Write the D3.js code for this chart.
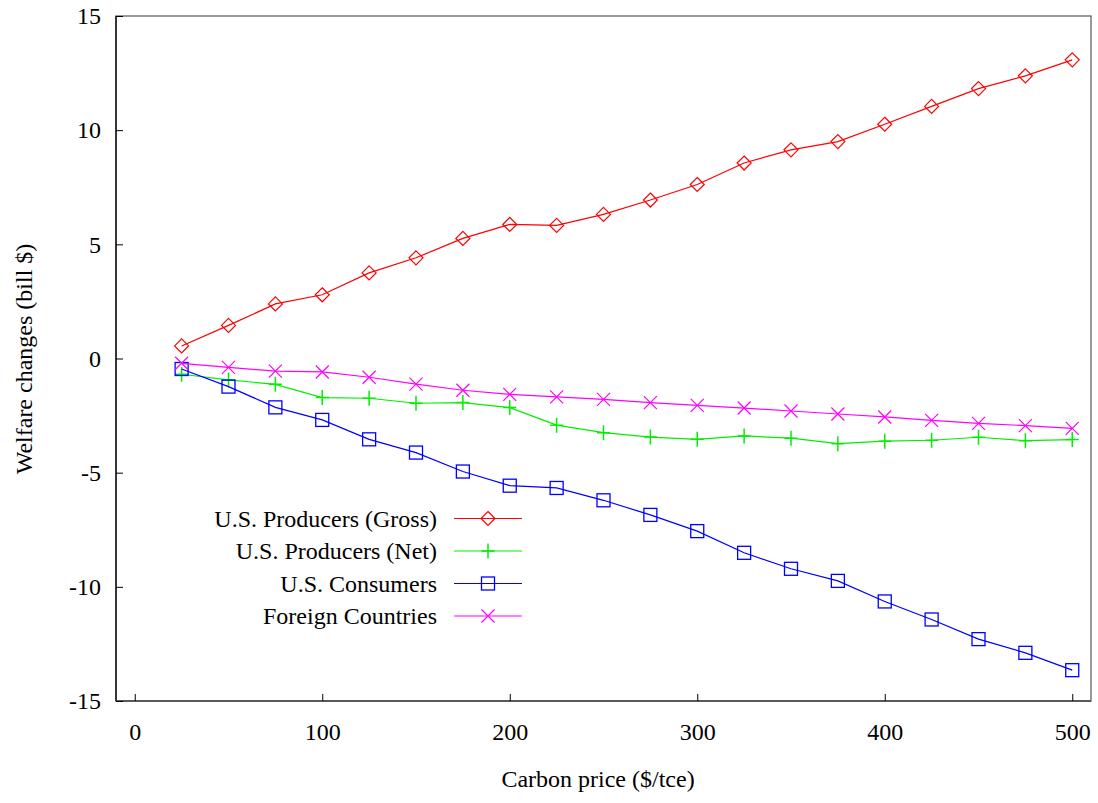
<!DOCTYPE html>
<html><head><meta charset="utf-8">
<script src="https://cdn.jsdelivr.net/npm/d3@7"></script>
<style>body{margin:0;background:#fff}svg{display:block}</style>
</head><body><svg id="c" width="1098" height="803"></svg>
<script>
const prices = [25,50,75,100,125,150,175,200,225,250,275,300,325,350,375,400,425,450,475,500];
const gross = [0.55,1.45,2.39,2.79,3.75,4.41,5.26,5.87,5.83,6.31,6.94,7.62,8.56,9.14,9.50,10.26,11.04,11.82,12.38,13.08];
const net = [-0.69,-0.94,-1.13,-1.71,-1.74,-1.96,-1.93,-2.15,-2.92,-3.25,-3.44,-3.54,-3.39,-3.49,-3.73,-3.62,-3.58,-3.45,-3.60,-3.55];
const consumers = [-0.46,-1.23,-2.14,-2.69,-3.54,-4.12,-4.95,-5.57,-5.67,-6.21,-6.85,-7.56,-8.51,-9.21,-9.74,-10.64,-11.43,-12.29,-12.89,-13.65];
const foreign = [-0.21,-0.39,-0.55,-0.59,-0.82,-1.12,-1.39,-1.57,-1.68,-1.79,-1.93,-2.05,-2.17,-2.30,-2.43,-2.56,-2.71,-2.84,-2.94,-3.06];
const seriesNames = ["U.S. Producers (Gross)","U.S. Producers (Net)","U.S. Consumers","Foreign Countries"];
const xTicks = [0,100,200,300,400,500];
const yTicks = [-15,-10,-5,0,5,10,15];

const FONT = "'Liberation Serif', 'Times New Roman', serif";
const series = [
  {name: seriesNames[0], values: gross, color: "#ff0000", marker: "diamond"},
  {name: seriesNames[1], values: net, color: "#00ee00", marker: "plus"},
  {name: seriesNames[2], values: consumers, color: "#0000ff", marker: "square"},
  {name: seriesNames[3], values: foreign, color: "#ff00ff", marker: "cross"}
];

const L = 116, R = 1091, T = 16, B = 701;
const x = d3.scaleLinear().domain([-10, 510]).range([L, R]);
const y = d3.scaleLinear().domain([-15, 15]).range([B, T]);
const svg = d3.select("#c");

// frame
svg.append("rect").attr("x", L).attr("y", T).attr("width", R - L).attr("height", B - T)
  .attr("fill", "none").attr("stroke", "#555").attr("stroke-width", 1.2);
svg.append("line").attr("x1", L).attr("x2", L).attr("y1", T).attr("y2", B).attr("stroke", "#000").attr("stroke-width", 1.3);
svg.append("line").attr("x1", L).attr("x2", R).attr("y1", B).attr("y2", B).attr("stroke", "#444").attr("stroke-width", 1.3);

// axes (inward ticks)
const yAxis = d3.axisLeft(y).tickValues(yTicks).tickSize(-7).tickPadding(15).tickFormat(d => String(d));
const gy = svg.append("g").attr("transform", `translate(${L},0)`).call(yAxis);
gy.select(".domain").remove();
gy.selectAll(".tick line").attr("stroke", "#000");
gy.selectAll(".tick text").style("font-size", "24px").style("font-family", FONT).attr("fill", "#000");

const xAxis = d3.axisBottom(x).tickValues(xTicks).tickSize(-7).tickPadding(22).tickFormat(d => String(d));
const gx = svg.append("g").attr("transform", `translate(0,${B})`).call(xAxis);
gx.select(".domain").remove();
gx.selectAll(".tick line").attr("stroke", "#000");
gx.selectAll(".tick text").style("font-size", "24px").style("font-family", FONT).attr("fill", "#000");

// labels
svg.append("text").attr("x", 598).attr("y", 787).attr("text-anchor", "middle")
  .style("font-size", "24px").style("font-family", FONT).text("Carbon price ($/tce)");
svg.append("text").attr("transform", "translate(32,359) rotate(-90)").attr("text-anchor", "middle")
  .style("font-size", "24px").style("font-family", FONT).text("Welfare changes (bill $)");

function drawMarker(g, type, cx, cy, color) {
  const s = 6.5;
  if (type === "diamond") {
    g.append("path").attr("d", `M${cx},${cy - s - 0.5}L${cx + s + 0.5},${cy}L${cx},${cy + s + 0.5}L${cx - s - 0.5},${cy}Z`)
      .attr("fill", "none").attr("stroke", color).attr("stroke-width", 1.2);
  } else if (type === "square") {
    g.append("rect").attr("x", cx - s).attr("y", cy - s).attr("width", 2 * s).attr("height", 2 * s)
      .attr("fill", "none").attr("stroke", color).attr("stroke-width", 1.3);
  } else if (type === "plus") {
    g.append("path").attr("d", `M${cx - s},${cy}L${cx + s},${cy}M${cx},${cy - s - 1}L${cx},${cy + s + 1}`)
      .attr("fill", "none").attr("stroke", color).attr("stroke-width", 1.5);
  } else if (type === "cross") {
    g.append("path").attr("d", `M${cx - s},${cy - s}L${cx + s},${cy + s}M${cx - s},${cy + s}L${cx + s},${cy - s}`)
      .attr("fill", "none").attr("stroke", color).attr("stroke-width", 1.2);
  }
}

const line = d3.line().x((d, i) => x(prices[i])).y(d => y(d));
series.forEach(s => {
  const g = svg.append("g");
  g.append("path").datum(s.values).attr("d", line).attr("fill", "none").attr("stroke", s.color).attr("stroke-width", 1.2);
  s.values.forEach((v, i) => drawMarker(g, s.marker, x(prices[i]), y(v), s.color));
});

// legend
const legY0 = 518.5, legDy = 32.5;
series.forEach((s, i) => {
  const yy = legY0 + i * legDy;
  const g = svg.append("g");
  g.append("text").attr("x", 437).attr("y", yy).attr("dy", "0.35em").attr("text-anchor", "end")
    .style("font-size", "24px").style("font-family", FONT).attr("fill", "#000").text(s.name);
  g.append("line").attr("x1", 454).attr("x2", 522).attr("y1", yy).attr("y2", yy).attr("stroke", s.color).attr("stroke-width", 1.2);
  drawMarker(g, s.marker, 488, yy, s.color);
});
</script></body></html>
